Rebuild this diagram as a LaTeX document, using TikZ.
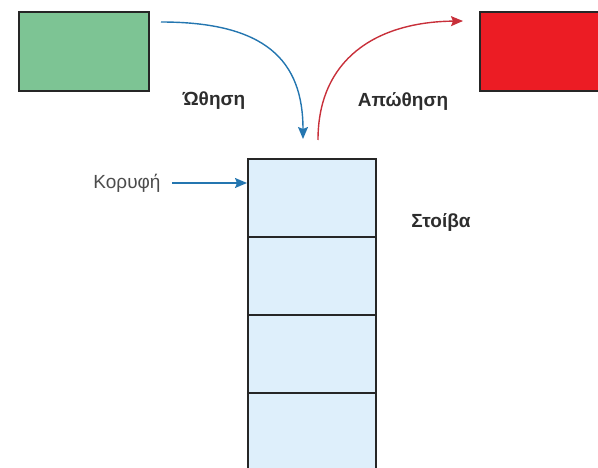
\documentclass[tikz,border=0pt]{standalone}
\usepackage{fontspec}
\setmainfont{Liberation Sans}
\usetikzlibrary{arrows.meta}
\definecolor{pushgreen}{RGB}{125,196,148}
\definecolor{popred}{RGB}{236,28,36}
\definecolor{cellblue}{RGB}{222,239,251}
\definecolor{pushblue}{RGB}{36,118,176}
\definecolor{popline}{RGB}{200,48,58}
\definecolor{labelgray}{RGB}{45,45,45}
\tikzset{
  box/.style={draw=black!85, line width=1.7pt, anchor=north west, inner sep=0pt},
  cell/.style={box, fill=cellblue, minimum width=128pt, minimum height=78pt},
  boldlabel/.style={font=\bfseries\fontsize{19}{22}\selectfont, text=labelgray},
  plainlabel/.style={font=\fontsize{19}{22}\selectfont, text=black!70},
  flow/.style={line width=1.4pt, -{Stealth[length=12pt,width=10pt,inset=2pt]}}
}
\begin{document}
\begin{tikzpicture}[x=1pt,y=-1pt]
\useasboundingbox (0,0) rectangle (598,468);
% incoming and outgoing elements
\node[box, fill=pushgreen, minimum width=130pt, minimum height=79pt] (newitem) at (18,11) {};
\node[box, fill=popred, minimum width=130pt, minimum height=79pt] (olditem) at (479,11) {};
% the stack cells
\node[cell] (c1) at (247,158) {};
\node[cell] (c2) at (247,236) {};
\node[cell] (c3) at (247,314) {};
\node[cell, minimum height=80pt] (c4) at (247,392) {};
% labels
\node[boldlabel] (pushlbl) at (214,101) {Ώθηση};
\node[boldlabel] (poplbl) at (403,101) {Απώθηση};
\node[plainlabel] (toplbl) at (127,183) {Κορυφή};
\node[boldlabel] (stacklbl) at (441,222) {Στοίβα};
% connector end points
\coordinate (pushfrom) at (161,22);
\coordinate (pushto) at (303,139);
\coordinate (popfrom) at (318,140);
\coordinate (popto) at (463,21);
% push and pop arrows
\draw[flow, draw=pushblue] (pushfrom) .. controls (265,22) and (303,60) .. (pushto);
\draw[flow, draw=popline] (popfrom) .. controls (318,60) and (375,22) .. (popto);
\draw[flow, draw=pushblue] (toplbl.east) ++(8,0) -- (c1.west |- toplbl.east);
\end{tikzpicture}
\end{document}
